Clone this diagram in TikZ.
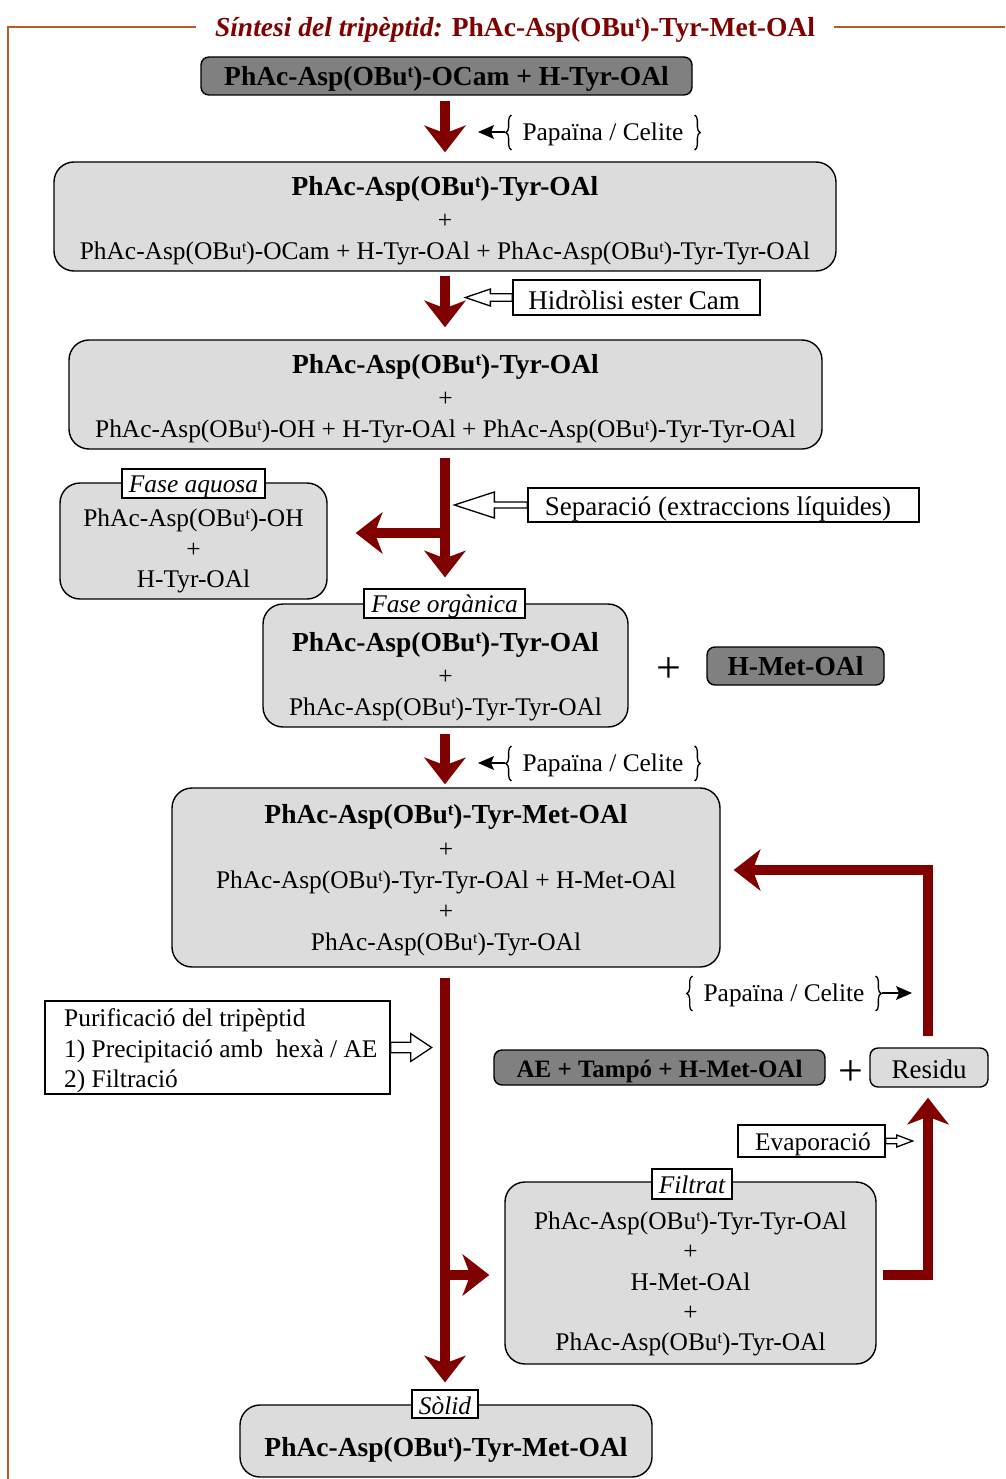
\documentclass[tikz,border=0pt]{standalone}
\usepackage{fontspec}
\setmainfont{Liberation Serif}
\usetikzlibrary{arrows.meta,decorations.pathreplacing,calc}
\definecolor{maroonc}{RGB}{128,0,0}
\definecolor{framec}{RGB}{185,90,40}
\definecolor{lgray}{RGB}{220,220,220}
\definecolor{dgray}{RGB}{128,128,128}
\newcommand\sut{\raisebox{0.3em}{\scalebox{0.62}{t}}}
\newcommand\fr{\fontsize{25.4}{31}\selectfont}
\newcommand\frr{\fontsize{25.4}{30.3}\selectfont}
\newcommand\fl{\fontsize{27}{31}\selectfont}
\newcommand\fb{\fontsize{27.5}{31}\selectfont\bfseries}
\newcommand\harrow[6]{\draw[hollow] (#1) -- ++(0,{-#5}) -- ++({(#2)*#3},0) -- ++(0,{-(#6-#5)}) -- ++({(#2)*#4},{#6}) -- ++({-1*(#2)*#4},{#6}) -- ++(0,{-(#6-#5)}) -- ++({-1*(#2)*#3},0) -- cycle;}
\tikzset{
 lbox/.style={draw, line width=1.4pt, fill=lgray, rounded corners=20pt, inner sep=0pt},
 dbox/.style={draw, line width=1.4pt, fill=dgray, rounded corners=8pt, inner sep=0pt},
 sbox/.style={draw, line width=1.3pt, fill=white, inner sep=0pt},
 tagbox/.style={draw, line width=1.2pt, fill=white, inner sep=0pt},
 tagtxt/.style={inner sep=0pt, font=\fr\itshape},
 txt/.style={align=center, inner sep=0pt, font=\fr},
 plusnode/.style={inner sep=0pt, font=\fontsize{44}{44}\selectfont},
 flow/.style={color=maroonc, line width=10pt, line join=miter, -{Stealth[length=27pt,width=42pt,inset=8pt,line width=0pt]}},
 thinarrow/.style={line width=2pt, -{Stealth[length=16pt,width=14pt,inset=3pt,line width=0pt]}},
 hollow/.style={draw, line width=1.3pt, fill=white, line join=miter},
 brc/.style={decorate, decoration={brace, amplitude=5.5pt}, line width=1.3pt},
}
\begin{document}
\begin{tikzpicture}[x=1pt,y=-1pt]
\useasboundingbox (0,0) rectangle (1005,1479);
\coordinate (mid) at (445,0);
\coordinate (ry) at (0,870);
\coordinate (br1) at (445,533);
\coordinate (br2) at (445,1275);

% title and frame
\node[font=\fb, text=maroonc, inner sep=0pt] (title) at (515,30) {\textit{Síntesi del tripèptid:} PhAc-Asp(OBu\sut)-Tyr-Met-OAl};
\draw[framec, line width=2pt] ($(title.west)+(-19,-3)$) -| (8,1479);
\draw[framec, line width=2pt] ($(title.east)+(19,-3)$) -- (1005,27);

% top reactants
\node[dbox, minimum width=491pt, minimum height=38pt] (A) at (446.5,76) {};
\node[txt, font=\fb] (At) at (446.5,79) {PhAc-Asp(OBu\sut)-OCam + H-Tyr-OAl};

\node[txt] (pap1) at (603,134) {Papaïna / Celite};

\node[lbox, minimum width=782pt, minimum height=109pt] (B) at (445,216.5) {};
\node[txt] (Bt) at (445,221) {{\fb PhAc-Asp(OBu\sut)-Tyr-OAl}\\[2pt] +\\ PhAc-Asp(OBu\sut)-OCam + H-Tyr-OAl + PhAc-Asp(OBu\sut)-Tyr-Tyr-OAl};

\node[sbox, minimum width=247pt, minimum height=35pt] (Hyd) at (636.5,297.5) {};
\node[txt, font=\fl] (Hydt) at (634,300) {Hidròlisi ester Cam};

\node[lbox, minimum width=753pt, minimum height=109pt] (C) at (445.5,394.5) {};
\node[txt] (Ct) at (445.5,399) {{\fb PhAc-Asp(OBu\sut)-Tyr-OAl}\\[2pt] +\\ PhAc-Asp(OBu\sut)-OH + H-Tyr-OAl + PhAc-Asp(OBu\sut)-Tyr-Tyr-OAl};

\node[sbox, minimum width=391pt, minimum height=34pt] (Sep) at (723.5,505) {};
\node[txt, font=\fl] (Sept) at (718,509) {Separació (extraccions líquides)};

% aqueous phase
\node[lbox, minimum width=267pt, minimum height=116pt] (D) at (193.5,541) {};
\node[txt, font=\frr] (Dt) at (193.5,551) {PhAc-Asp(OBu\sut)-OH\\ +\\ H-Tyr-OAl};
\node[tagbox, minimum width=143pt, minimum height=29pt] (Dtag) at (193.5,483.5) {};
\node[tagtxt] (Dtagt) at (193.5,486.5) {Fase aquosa};

% organic phase
\node[lbox, minimum width=365pt, minimum height=123pt] (E) at (445.5,665.5) {};
\node[txt] (Et) at (445.5,677) {{\fb PhAc-Asp(OBu\sut)-Tyr-OAl}\\[2pt] +\\ PhAc-Asp(OBu\sut)-Tyr-Tyr-OAl};
\node[tagbox, minimum width=161pt, minimum height=29pt] (Etag) at (444.5,603.5) {};
\node[tagtxt] (Etagt) at (444.5,606.5) {Fase orgànica};

\node[plusnode] (plus1) at (669,670) {+};
\node[dbox, minimum width=177pt, minimum height=38pt] (HMet) at (795.5,666) {};
\node[txt, font=\fb] (HMett) at (795.5,666) {H-Met-OAl};

\node[txt] (pap2) at (603,765) {Papaïna / Celite};

% coupling products
\node[lbox, minimum width=548pt, minimum height=179pt] (F) at (446,877.5) {};
\node[txt] (Ft) at (446,880.5) {{\fb PhAc-Asp(OBu\sut)-Tyr-Met-OAl}\\[3pt] +\\ PhAc-Asp(OBu\sut)-Tyr-Tyr-OAl + H-Met-OAl\\ +\\ PhAc-Asp(OBu\sut)-Tyr-OAl};

\node[txt] (pap3) at (784,995) {Papaïna / Celite};

\node[sbox, minimum width=345pt, minimum height=93pt] (Pur) at (217.5,1047.5) {};
\node[txt, align=left, anchor=west, font=\fontsize{25.4}{30.5}\selectfont] (Purt) at (64,1051) {Purificació del tripèptid\\ 1) Precipitació amb\ \ hexà / AE\\ 2) Filtració};

\node[dbox, minimum width=331pt, minimum height=35pt] (AE) at (659.5,1067.5) {};
\node[txt, font=\fontsize{25}{30}\selectfont\bfseries] (AEt) at (659.5,1071) {AE + Tampó + H-Met-OAl};
\node[plusnode] (plus2) at (851,1073) {+};
\node[lbox, rounded corners=8pt, minimum width=118pt, minimum height=39pt] (Res) at (929,1067.5) {};
\node[txt, font=\fl] (Rest) at (929,1069) {Residu};

\node[sbox, minimum width=147pt, minimum height=32pt] (Ev) at (811.5,1141) {};
\node[txt] (Evt) at (813,1144) {Evaporació};

% filtrate
\node[lbox, minimum width=371pt, minimum height=182pt] (Fil) at (690.5,1273) {};
\node[txt, font=\frr] (Filt) at (690.5,1284) {PhAc-Asp(OBu\sut)-Tyr-Tyr-OAl\\ +\\ H-Met-OAl\\ +\\ PhAc-Asp(OBu\sut)-Tyr-OAl};
\node[tagbox, minimum width=80pt, minimum height=30pt] (Ftag) at (692,1184) {};
\node[tagtxt] (Ftagt) at (692,1185) {Filtrat};

% solid
\node[lbox, minimum width=412pt, minimum height=72pt] (S) at (446,1441) {};
\node[txt, font=\fb] (St) at (446,1450) {PhAc-Asp(OBu\sut)-Tyr-Met-OAl};
\node[tagbox, minimum width=66pt, minimum height=28pt] (Stag) at (445,1404) {};
\node[tagtxt] (Stagt) at (445,1406) {Sòlid};

% braces and thin arrows
\draw[brc] ($(pap1.west)+(-11,16)$) -- ($(pap1.west)+(-11,-19)$);
\draw[brc] ($(pap1.east)+(11,-19)$) -- ($(pap1.east)+(11,16)$);
\draw[thinarrow] ($(pap1.west)+(-17,-2)$) -- ($(mid|-pap1)+(33,-2)$);

\draw[brc] ($(pap2.west)+(-11,16)$) -- ($(pap2.west)+(-11,-19)$);
\draw[brc] ($(pap2.east)+(11,-19)$) -- ($(pap2.east)+(11,16)$);
\draw[thinarrow] ($(pap2.west)+(-17,-2)$) -- ($(mid|-pap2)+(33,-2)$);

\draw[brc] ($(pap3.west)+(-11,16)$) -- ($(pap3.west)+(-11,-19)$);
\draw[brc] ($(pap3.east)+(11,-19)$) -- ($(pap3.east)+(11,16)$);
\draw[thinarrow] ($(pap3.east)+(17,-2)$) -- ($(Res.north|-pap3)+(-17,-2)$);

% hollow arrows
\harrow{Hyd.west}{-1}{22}{25}{3.8}{8.5}
\harrow{Sep.west}{-1}{33}{40}{3}{13}
\harrow{Pur.east}{1}{20}{21}{5.3}{14}
\harrow{Ev.east}{1}{11}{16}{2.7}{6}

% main flow arrows
\draw[flow] ($(mid|-A.south)+(0,5)$) -- ($(mid|-B.north)+(0,-9)$);
\draw[flow] ($(mid|-B.south)+(0,4)$) -- ($(mid|-C.north)+(0,-12)$);
\draw[flow] ($(mid|-C.south)+(0,8)$) -- ($(mid|-Etag.north)+(0,-11)$);
\draw[flow] (br1) -- ($(D.east|-br1)+(28,0)$);
\draw[flow] ($(mid|-E.south)+(0,6)$) -- ($(mid|-F.north)+(0,-3)$);
\draw[flow] ($(mid|-F.south)+(0,10)$) -- ($(mid|-Stag.north)+(0,-7)$);
\draw[flow] (br2) -- ($(Fil.west|-br2)+(-15,0)$);
\draw[flow] ($(Fil.east|-br2)+(6,0)$) -| ($(Res.south)+(-1,10)$);
\draw[flow] ($(Res.north)+(-1,-11)$) |- ($(F.east|-ry)+(13,0)$);
\end{tikzpicture}
\end{document}
